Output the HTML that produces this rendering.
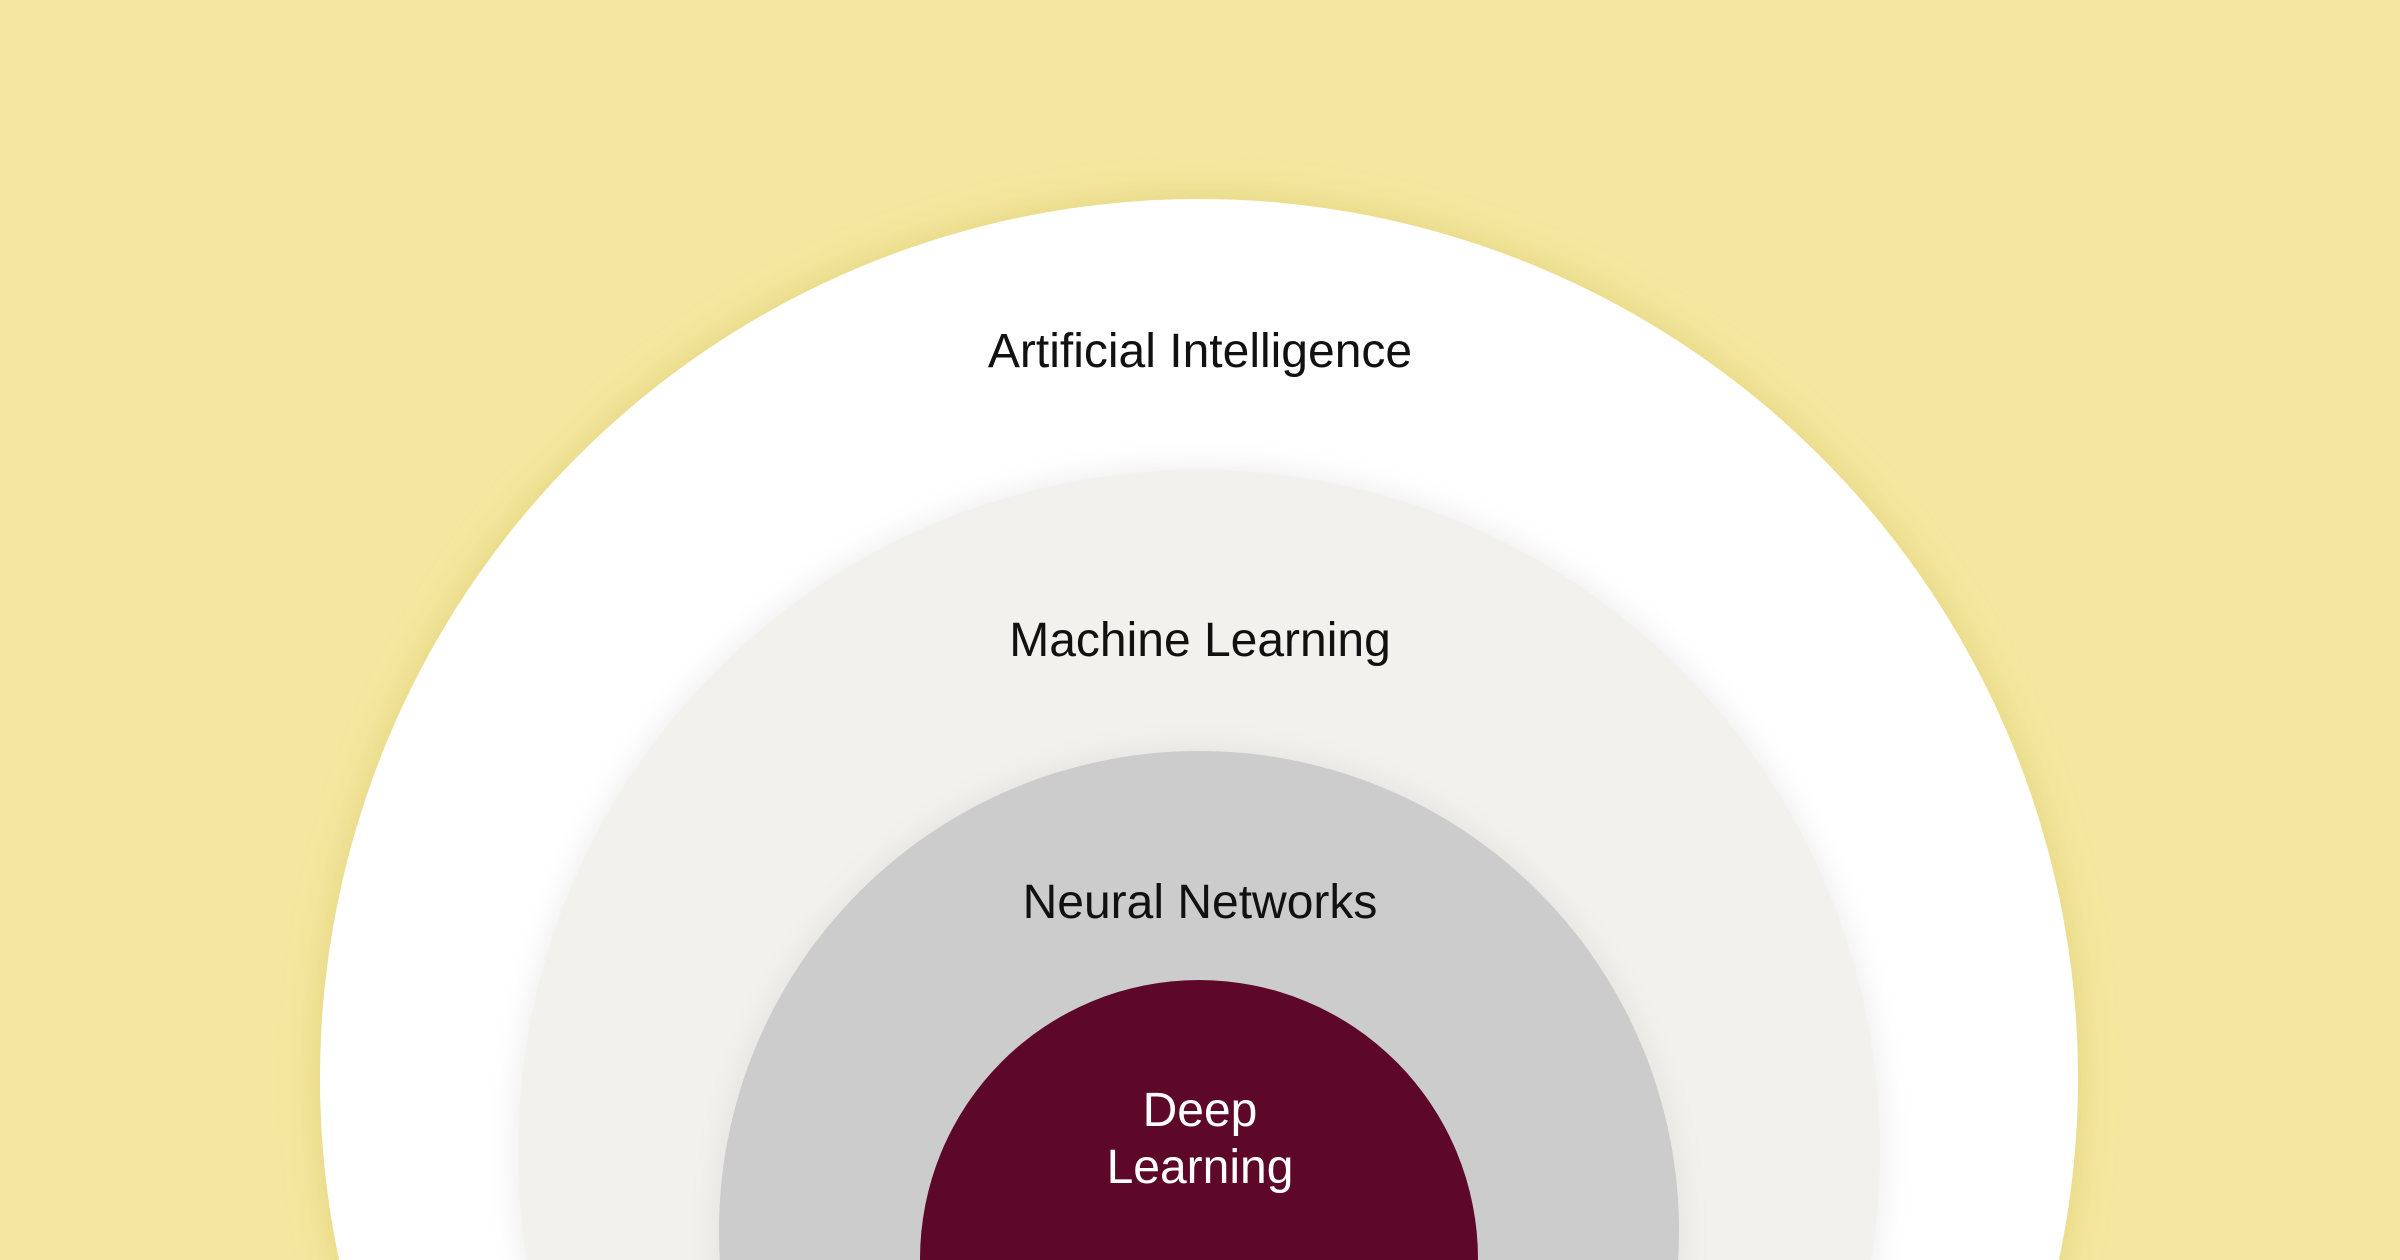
<!DOCTYPE html>
<html><head><meta charset="utf-8"><style>
html,body{margin:0;padding:0;width:2400px;height:1260px;overflow:hidden;}
#w{width:2400px;height:1260px;background:#f4e8a0;position:relative;overflow:hidden;font-family:"Liberation Sans",sans-serif;}
svg{position:absolute;left:0;top:0;}
.t{position:absolute;left:0;width:2400px;text-align:center;font-size:48px;color:#111;line-height:1;}
</style></head><body><div id="w">
<svg width="2400" height="1260" viewBox="0 0 2400 1260">
<defs>
<filter id="s1" x="-10%" y="-10%" width="120%" height="120%"><feGaussianBlur stdDeviation="18"/></filter>
<filter id="s2" x="-10%" y="-10%" width="120%" height="120%"><feGaussianBlur stdDeviation="14"/></filter>
</defs>
<circle cx="1199" cy="1078" r="882" fill="rgba(200,175,70,0.35)" filter="url(#s1)"/>
<circle cx="1199" cy="1078" r="879" fill="#fff"/>
<circle cx="1199" cy="1151" r="684" fill="rgba(0,0,0,0.07)" filter="url(#s2)"/>
<circle cx="1199" cy="1151" r="681" fill="#f2f1ed"/>
<circle cx="1199" cy="1231" r="483" fill="rgba(0,0,0,0.06)" filter="url(#s2)"/>
<circle cx="1199" cy="1231" r="480" fill="#cccccc"/>
<circle cx="1199" cy="1259" r="279" fill="#5e0829"/>
</svg>
<div class="t" style="top:328px;">Artificial Intelligence</div>
<div class="t" style="top:617px;">Machine Learning</div>
<div class="t" style="top:879px;">Neural Networks</div>
<div class="t" style="top:1087px;color:#fff;">Deep</div>
<div class="t" style="top:1144px;color:#fff;">Learning</div>
</div></body></html>
